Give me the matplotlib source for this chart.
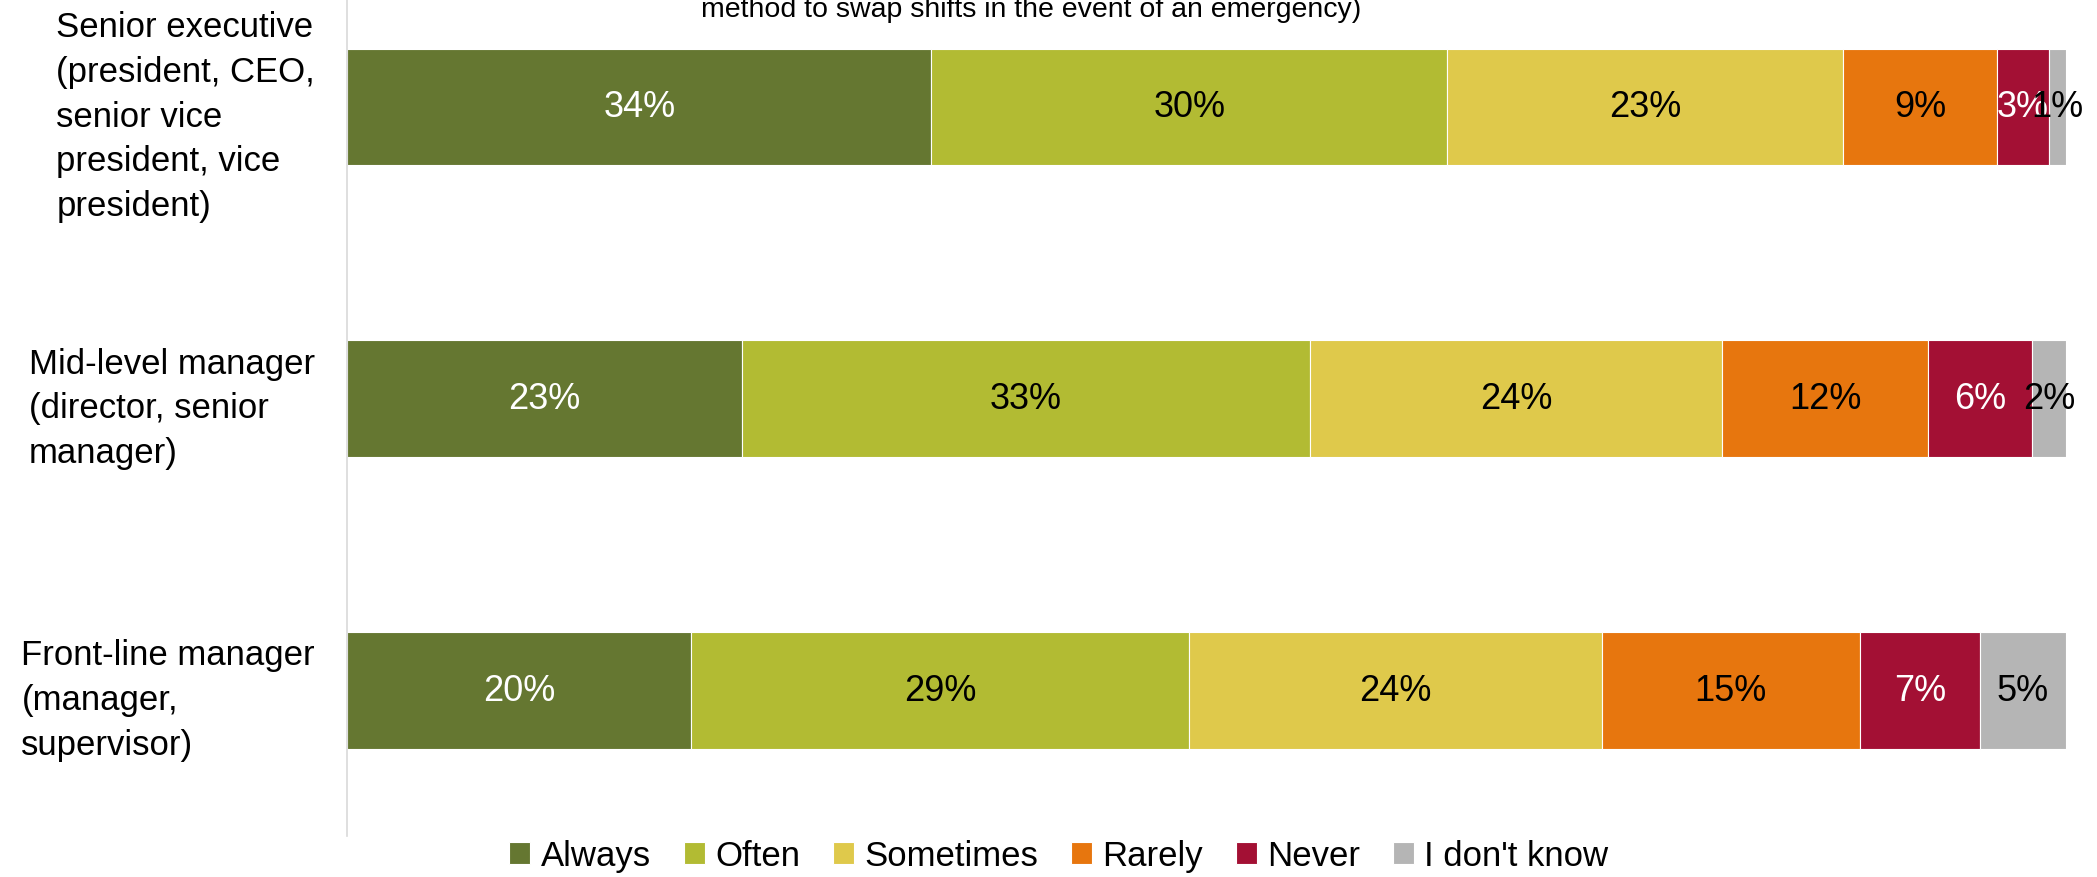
import numpy as np
import matplotlib.pyplot as plt

# du lieu
roles = [
    "Senior executive\n(president, CEO,\nsenior vice\npresident, vice\npresident)",
    "Mid-level manager\n(director, senior\nmanager)",
    "Front-line manager\n(manager,\nsupervisor)",
]
answers = ["Always", "Often", "Sometimes", "Rarely", "Never", "I don't know"]
always = [34, 23, 20]
often = [30, 33, 29]
sometimes = [23, 24, 24]
rarely = [9, 12, 15]
never = [3, 6, 7]
dont_know = [1, 2, 5]

colors = ["#657731", "#b2bb33", "#dfc94b", "#e7760e", "#a31034", "#b5b5b5"]
label_colors = ["white", "black", "black", "black", "white", "black"]

plt.rcParams['font.family'] = ['Liberation Sans', 'DejaVu Sans']

fig = plt.figure(figsize=(20.97, 8.78), dpi=100)
# truc keo dai qua mep tren (anh goc bi cat)
ax = fig.add_axes([347 / 2097, 41 / 878, (2066 - 347) / 2097, 875 / 878])

series = [always, often, sometimes, rarely, never, dont_know]
y = np.arange(len(roles))
left = np.zeros(len(roles))
for name, vals, c, tc in zip(answers, series, colors, label_colors):
    vals = np.array(vals, dtype=float)
    bars = ax.barh(y, vals, left=left, height=0.4, color=c, edgecolor='white',
                   linewidth=0.8, label=name)
    for b, v in zip(bars, vals):
        ax.text(b.get_x() + b.get_width() / 2, b.get_y() + b.get_height() / 2,
                f"{int(v)}%", ha='center', va='center', color=tc, fontsize=26)
    left += vals

ax.set_xlim(0, 100)
ax.set_ylim(2.5, -0.5)
ax.set_yticks(y)
ax.set_yticklabels(roles, fontsize=25, linespacing=1.45)
for t in ax.get_yticklabels():
    t.set_multialignment('left')
ax.tick_params(axis='y', length=0, pad=23)
ax.set_xticks([])
for s in ['top', 'right', 'bottom']:
    ax.spines[s].set_visible(False)
ax.spines['left'].set_color('#d9d9d9')
ax.spines['left'].set_linewidth(1.2)

# dong cuoi cua tieu de (phan tren bi cat)
fig.text(1031 / 2097, 1 - 17 / 878, "method to swap shifts in the event of an emergency)",
         ha='center', va='baseline', fontsize=20.5)

fig.legend(loc='center', bbox_to_anchor=(1059 / 2097, 1 - 857 / 878), ncol=6,
           frameon=False, handlelength=0.6, handleheight=0.6, handletextpad=0.3,
           columnspacing=0.95, prop={'size': 25})

fig.savefig("out.png", dpi=100)
